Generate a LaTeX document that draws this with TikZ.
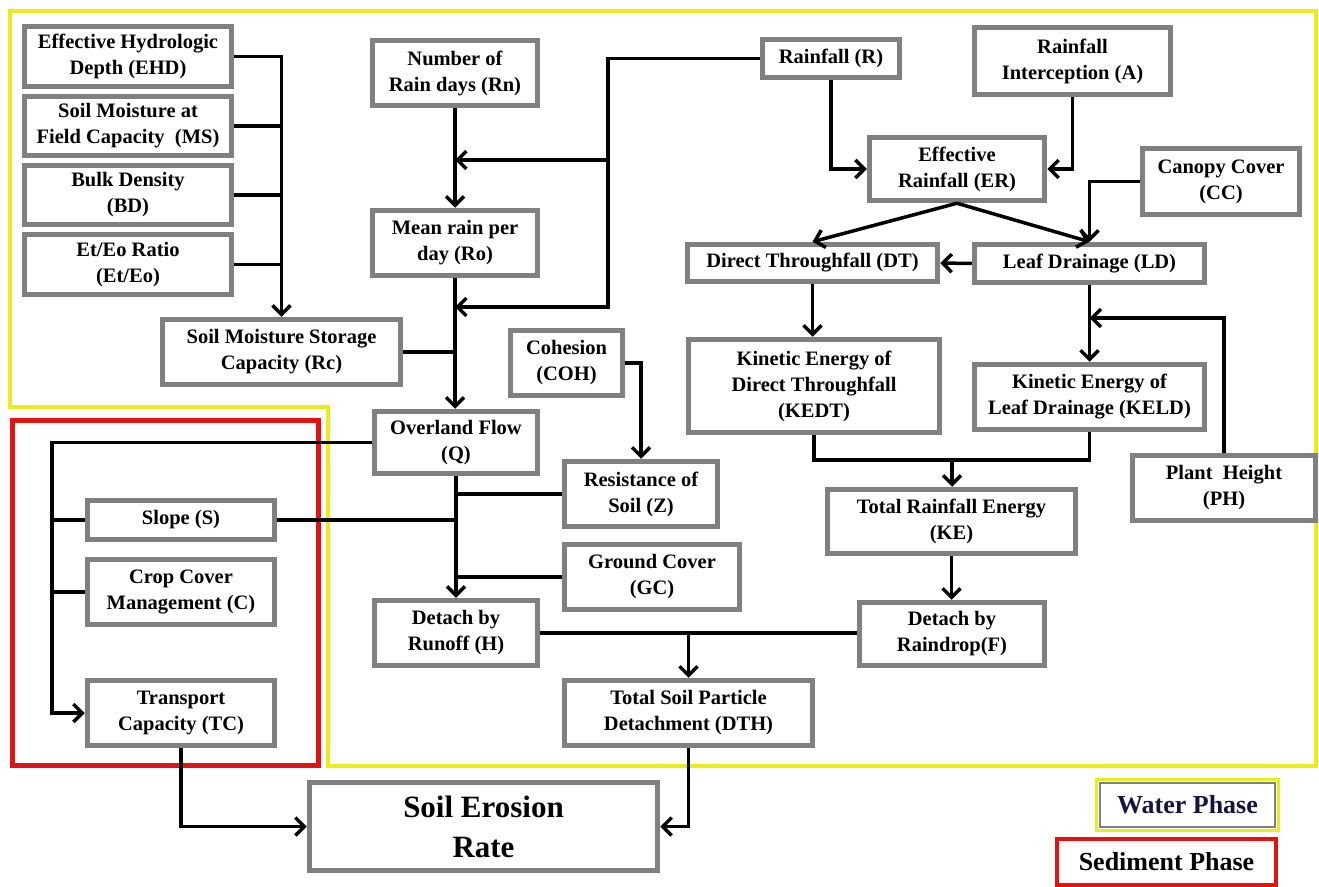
\documentclass[tikz,border=0pt]{standalone}
\usepackage{fontspec}
\setmainfont{Liberation Serif}
\usetikzlibrary{arrows.meta}
\definecolor{boxgray}{RGB}{128,128,128}
\definecolor{phyellow}{RGB}{235,235,30}
\definecolor{phred}{RGB}{225,20,20}
\definecolor{navy}{RGB}{20,20,60}
\newcommand\mybox[6]{\node[box,minimum width={#4-#2-5},minimum height={#5-#3-5}] (#1) at ({(#2+#4)/2},{(#3+#5)/2}) {#6};}
\begin{document}
\begin{tikzpicture}[x=1pt,y=-1pt,
  box/.style={draw=boxgray,line width=5.5pt,fill=white,align=center,inner sep=2pt,font=\bfseries\fontsize{20.5}{26}\selectfont},
  ln/.style={line width=3.5pt,black},
  arr/.style={ln,-{Straight Barb[length=9pt,width=18pt]}}]
\useasboundingbox (0,0) rectangle (1319,886);
% phase outlines
\draw[phyellow,line width=4pt] (10,11) -- (1316,11) -- (1316,766) -- (328,766) -- (328,407) -- (10,407) -- cycle;
\draw[phred,line width=5pt] (12,420) rectangle (318,765);
% nodes
\mybox{EHD}{22}{24}{234}{89}{Effective Hydrologic\\Depth (EHD)}
\mybox{MS}{22}{94}{234}{158}{Soil Moisture at\\Field Capacity~~(MS)}
\mybox{BD}{22}{163}{234}{227}{Bulk Density\\(BD)}
\mybox{EtEo}{22}{232}{234}{297}{Et/Eo Ratio\\(Et/Eo)}
\mybox{Rc}{160}{317}{403}{387}{Soil Moisture Storage\\Capacity (Rc)}
\mybox{Rn}{370}{38}{540}{108}{Number of\\Rain days (Rn)}
\mybox{Ro}{370}{208}{540}{278}{Mean rain per\\day (Ro)}
\mybox{Q}{372}{409}{540}{476}{Overland Flow\\(Q)}
\mybox{COH}{508}{328}{625}{398}{Cohesion\\(COH)}
\mybox{Z}{562}{459}{720}{529}{Resistance of\\Soil (Z)}
\mybox{GC}{562}{542}{742}{612}{Ground Cover\\(GC)}
\mybox{H}{372}{598}{540}{668}{Detach by\\Runoff (H)}
\mybox{S}{85}{498}{277}{542}{Slope (S)}
\mybox{C}{85}{557}{277}{627}{Crop Cover\\Management (C)}
\mybox{TC}{85}{678}{277}{748}{Transport\\Capacity (TC)}
\mybox{DTH}{562}{678}{815}{748}{Total Soil Particle\\Detachment (DTH)}
\mybox{F}{857}{600}{1047}{668}{Detach by\\Raindrop(F)}
\mybox{KE}{825}{487}{1078}{556}{Total Rainfall Energy\\(KE)}
\mybox{KEDT}{686}{337}{942}{435}{Kinetic Energy of\\Direct Throughfall\\(KEDT)}
\mybox{KELD}{972}{362}{1207}{432}{Kinetic Energy of\\Leaf Drainage (KELD)}
\mybox{PH}{1130}{453}{1318}{523}{Plant~~Height\\(PH)}
\mybox{LD}{972}{242}{1207}{285}{Leaf Drainage (LD)}
\mybox{DT}{685}{242}{940}{284}{Direct Throughfall (DT)}
\mybox{ER}{867}{135}{1047}{203}{Effective\\Rainfall (ER)}
\mybox{R}{760}{37}{902}{80}{Rainfall (R)}
\mybox{A}{972}{25}{1173}{97}{Rainfall\\Interception (A)}
\mybox{CC}{1140}{146}{1302}{217}{Canopy Cover\\(CC)}
\node[box,font=\bfseries\fontsize{31}{40}\selectfont,minimum width=348,minimum height=88] (SER) at (483.5,826.5) {Soil Erosion\\Rate};
% legend
\node[draw=boxgray,line width=2pt,fill=white,minimum width=175,minimum height=44,inner sep=0pt,font=\bfseries\fontsize{26}{30}\selectfont,text=navy] (WP) at (1187.5,805) {Water Phase};
\draw[phyellow,line width=3pt] ([shift={(-2.5,-2.5)}]WP.north west) rectangle ([shift={(2.5,2.5)}]WP.south east);
\node[draw=phred,line width=4pt,fill=white,minimum width=219,minimum height=46,inner sep=0pt,font=\bfseries\fontsize{26}{30}\selectfont] (SP) at (1166.5,862) {Sediment Phase};
% connectors
\draw[arr] (EHD.east) -| (Rc.north);
\foreach \n in {MS,BD,EtEo} \draw[ln] (\n.east) -- (\n.east -| Rc.north);
\draw[ln] (Rc.east) -- (Rc.east -| Q.north);
\draw[arr] (Rn.south) -- (Rn.south |- Ro.north);
\draw[arr] (Ro.south) -- (Ro.south |- Q.north);
\coordinate (rtop) at (608,58.5);
\coordinate (rmid) at (608,160);
\coordinate (rbot) at (608,307);
\draw[arr] (R.west) -- (rtop) -- (rbot) -- (rbot -| Ro.south);
\draw[arr] (rmid) -- (rmid -| Rn.south);
\draw[arr] (R.south) |- (ER.west);
\draw[arr] (A.south) |- (ER.east);
\draw[arr] (CC.west) -| (LD.north);
\draw[arr] (ER.south) -- (DT.north);
\draw[arr] (ER.south) -- (LD.north);
\draw[arr] (LD.west) -- (DT.east);
\draw[arr] (DT.south) -- (DT.south |- KEDT.north);
\draw[arr] (LD.south) -- (LD.south |- KELD.north);
\coordinate (phj) at (1200,318);
\draw[arr] (PH.north) |- (LD.south |- phj);
\coordinate (kej) at (952,460);
\draw[ln] (KEDT.south) |- (kej) -| (KELD.south);
\draw[arr] (kej) -- (kej |- KE.north);
\draw[arr] (KE.south) -- (KE.south |- F.north);
\draw[ln] (H.east) -- (H.east -| F.west);
\draw[arr] (H.east -| DTH.north) -- (DTH.north);
\draw[arr] (COH.east) -| (Z.north);
\draw[ln] (Z.west) -- (Z.west -| Q.south);
\draw[ln] (GC.west) -- (GC.west -| Q.south);
\draw[ln] (S.east) -- (S.east -| Q.south);
\draw[arr] (Q.south) -- (Q.south |- H.north);
\coordinate (ql) at (52,443);
\draw[arr] (Q.west) -- (Q.west -| ql) |- (TC.west);
\draw[ln] (S.west) -- (S.west -| ql);
\draw[ln] (C.west) -- (C.west -| ql);
\draw[arr] (TC.south) |- (SER.west);
\draw[arr] (DTH.south) |- (SER.east);
\end{tikzpicture}
\end{document}
